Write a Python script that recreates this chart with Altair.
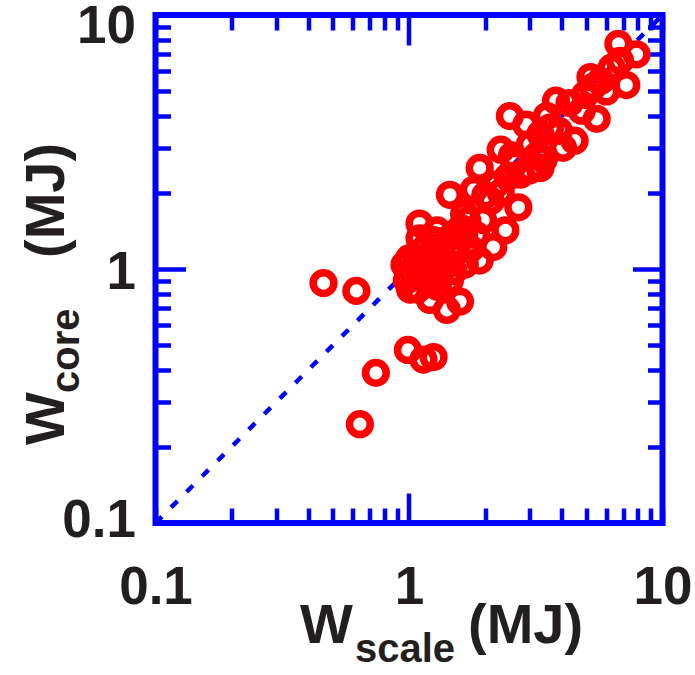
import altair as alt
import pandas as pd

# ---- data ----
w_scale = [6.7, 7.9, 6.3, 5.2, 7.2, 6.0, 4.3, 3.5, 5.5, 3.9, 3.3, 4.5, 4.05, 3.0, 3.4,
           2.5, 2.55, 3.3, 2.75, 2.45, 1.9, 2.2, 1.8, 2.7, 2.1, 1.45, 1.65, 1.96, 1.1,
           1.29, 1.52, 1.1, 1.32, 2.15, 1.75, 1.5, 1.66, 1.9, 0.96, 1.07, 1.19, 1.32,
           0.98, 1.08, 1.21, 1.41, 1.59, 1.01,
           2.3, 2.9, 3.8, 4.95, 5.7, 6.8, 3.0, 1.65, 1.4, 1.21, 1.45, 1.84, 2.4,
           1.0, 1.15, 1.25, 1.35, 1.2, 1.05, 1.3, 1.55, 1.6, 1.7, 1.12, 1.38, 1.28,
           1.5, 2.0, 2.3, 2.6, 3.6, 4.8, 5.3, 3.2,
           0.46, 0.62, 0.99, 1.14, 1.25, 0.74, 0.64]
w_core = [7.7, 7.0, 6.2, 5.7, 5.3, 5.0, 4.5, 4.0, 3.9, 3.5, 3.4, 3.2, 3.0, 3.1, 2.7,
          4.0, 2.8, 2.5, 2.35, 2.3, 2.5, 2.15, 2.05, 1.75, 1.85, 1.96, 1.65, 1.56, 1.51,
          1.42, 1.38, 1.32, 1.19, 1.22, 1.2, 1.13, 1.04, 1.08, 1.04, 1.08, 0.95, 0.99,
          0.9, 0.83, 0.755, 0.69, 0.744, 0.83,
          2.95, 3.7, 4.6, 4.85, 5.5, 6.6, 2.45, 1.36, 1.3, 1.08, 0.9, 1.36, 1.42,
          1.1, 1.2, 1.3, 1.1, 0.88, 0.95, 0.85, 1.25, 1.45, 1.55, 1.02, 1.02, 0.92,
          0.98, 1.95, 2.0, 2.6, 3.6, 4.2, 5.2, 2.8,
          0.88, 0.82, 0.48, 0.44, 0.45, 0.39, 0.245]

diag = [0.1, 10]
tick_values = [0.1, 0.2, 0.3, 0.4, 0.5, 0.6, 0.7, 0.8, 0.9,
               1, 2, 3, 4, 5, 6, 7, 8, 9, 10]
x_title = ["W", "scale", "(MJ)"]
y_title = ["W", "core", "(MJ)"]

pts = pd.DataFrame({"w_scale": w_scale, "w_core": w_core})
diag_df = pd.DataFrame({"v": diag})

FONT = "Liberation Sans"
BLUE = "#0000ff"
TXT = "#231f20"
W, H = 507, 508

xs = alt.Scale(type="log", domain=[0.1, 10], nice=False)
ys = alt.Scale(type="log", domain=[0.1, 10], nice=False)

label_expr = ("datum.value == 0.1 ? '0.1' : datum.value == 1 ? '1' : "
              "datum.value == 10 ? '10' : ''")
tick_expr = "datum.value == 1 ? -30 : -15"

common = dict(values=tick_values, title=None, domain=False, grid=False,
              tickColor=BLUE, tickWidth=4.5, tickSize=alt.ExprRef(expr=tick_expr),
              labelFont=FONT, labelFontWeight="bold", labelFontSize=53,
              labelColor=TXT, labelOverlap=False, labelFlush=False,
              labelExpr=label_expr)

ax_bottom = alt.Axis(orient="bottom", labelBaseline="top",
                     labelPadding=alt.ExprRef(expr="datum.value == 1 ? 68 : 53"),
                     **common)
ax_left = alt.Axis(orient="left", labelAlign="right", labelBaseline="middle",
                   labelOffset=alt.ExprRef(
                       expr="datum.value == 10 ? 11 : datum.value == 1 ? 3 : -3"),
                   labelPadding=alt.ExprRef(expr="datum.value == 1 ? 50 : 35"),
                   **common)
common_nolab = dict(common)
common_nolab["labels"] = False
ax_top = alt.Axis(orient="top", **common_nolab)
ax_right = alt.Axis(orient="right", **common_nolab)

line = alt.Chart(diag_df).mark_line(
    color=BLUE, strokeDash=[9, 13], strokeWidth=4.5
).encode(
    x=alt.X("v:Q", scale=xs, axis=ax_top),
    y=alt.Y("v:Q", scale=ys, axis=ax_right),
)

points = alt.Chart(pts).mark_point(
    shape="circle", filled=False, color="#ff0000", strokeWidth=7.5, size=430, opacity=1
).encode(
    x=alt.X("w_scale:Q", scale=xs, axis=ax_bottom),
    y=alt.Y("w_core:Q", scale=ys, axis=ax_left),
)

one = pd.DataFrame({"a": [0]})


def txt(s, x, y, size, angle=0):
    return alt.Chart(one).mark_text(
        text=s, font=FONT, fontWeight="bold", fontSize=size, color=TXT,
        align="left", baseline="alphabetic", angle=angle
    ).encode(x=alt.value(x), y=alt.value(y))


titles = [
    txt(x_title[0], 144.5, 628, 56),
    txt(x_title[1], 199.5, 647, 40),
    txt(x_title[2], 312.5, 628, 56),
    txt(y_title[0], -91.5, 430, 56, 270),
    txt(y_title[1], -76.5, 378, 40, 270),
    txt(y_title[2], -91.5, 243, 56, 270),
]

chart = alt.layer(line, points, *titles).resolve_axis(
    x="independent", y="independent"
).properties(
    width=W, height=H,
    autosize=alt.AutoSizeParams(type="none"),
    padding={"left": 155.5, "top": 15, "right": 32.5, "bottom": 152},
    background="white",
).configure_view(stroke=BLUE, strokeWidth=6)

chart.save("out.html", embed_options={"renderer": "svg", "actions": False})
